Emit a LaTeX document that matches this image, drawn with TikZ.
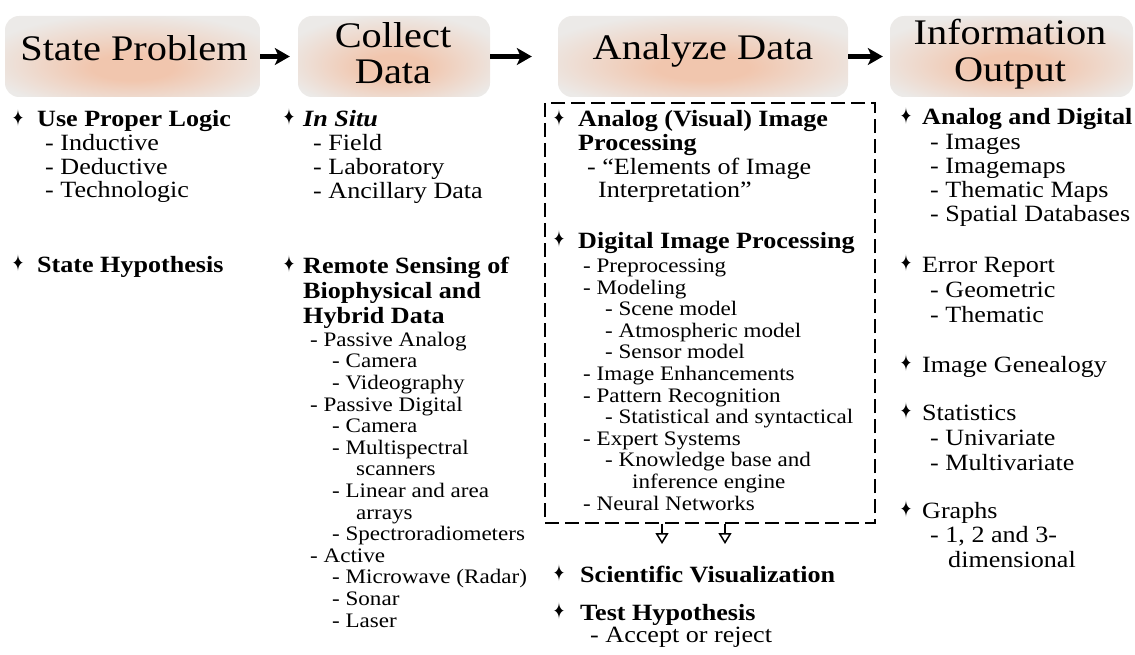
\documentclass[tikz,border=0pt]{standalone}
\usepackage{fontspec}
\usepackage{graphicx}
\setmainfont{Liberation Serif}[FakeStretch=1.12]
\newfontfamily\bulfam{DejaVu Sans}
\usetikzlibrary{arrows.meta}

\definecolor{hdrmid}{RGB}{241,198,174}
\definecolor{hdrrim}{RGB}{236,234,232}
\pgfdeclareradialshading{hdrglow}{\pgfpoint{0bp}{-8bp}}{%
  color(0bp)=(hdrmid); color(8bp)=(hdrmid); color(30bp)=(hdrrim); color(50bp)=(hdrrim)}

\newcommand{\bodyfont}{\fontsize{23.3}{24.3}\selectfont}
\newcommand{\smallfont}{\fontsize{20.6}{21.6}\selectfont}
\newcommand{\hdrfont}{\fontsize{36}{36.5}\selectfont}
% bullet in front of an entry, boxed to the given width
\newcommand{\itm}[1]{\makebox[#1][l]{\raisebox{0.5pt}{\bulfam\fontsize{23}{23}\selectfont\scalebox{0.62}[1]{✦}}}}

\begin{document}
\begin{tikzpicture}[x=1pt, y=-1pt,
  hdr/.style={rounded corners=14pt, minimum height=81pt, inner sep=0pt, shade, shading=hdrglow},
  htxt/.style={font=\hdrfont, align=center, inner sep=0pt},
  flowarrow/.style={line width=4.5pt, -{Stealth[length=15pt, width=17pt, inset=4pt]}},
  % entries sit on the baseline of their last line
  entry/.style={anchor=base west, align=left, inner sep=0pt, font=\bodyfont},
  sublist/.style={entry, font=\smallfont},
  dashbox/.style={draw, line width=1.4pt, dash pattern=on 14pt off 6pt, minimum width=330pt, minimum height=420pt, inner sep=0pt},
  outarrow/.style={line width=1.5pt, -{Triangle[open, length=11pt, width=13pt]}},
]
  \useasboundingbox (0,0) rectangle (1135,655);

  % the four stages
  \node[hdr, minimum width=255pt] (prob) at (132.5,56.5) {};
  \node[hdr, minimum width=192pt] (coll) at (394,56.5) {};
  \node[hdr, minimum width=290pt] (anlz) at (703,56.5) {};
  \node[hdr, minimum width=243pt] (info) at (1011.5,56.5) {};
  \node[htxt] (probt) at (134,47.7) {State Problem};
  \node[htxt] (collt) at (393,53) {Collect\\Data};
  \node[htxt] (anlzt) at (703,50.6) {Analyze Data};
  \node[htxt] (infot) at (1010,54) {Information\\Output};
  \draw[flowarrow, shorten >=8pt] (prob) -- (coll);
  \draw[flowarrow, shorten >=26pt] (coll) -- (anlz);
  \draw[flowarrow, shorten >=7pt] (anlz) -- (info);

  % state problem
  \node[entry] (logic) at (12,198) {\itm{25pt}\textbf{Use Proper Logic}\\[-0.6pt]
    \hspace*{33pt}- Inductive\\[-0.6pt]
    \hspace*{33pt}- Deductive\\[-0.6pt]
    \hspace*{33pt}- Technologic};
  \node[entry] (hyp) at (12,272) {\itm{25pt}\textbf{State Hypothesis}};

  % collect data
  \node[entry] (situ) at (283,199) {\itm{20pt}\textbf{\textit{In Situ}}\\
    \hspace*{30pt}- Field\\
    \hspace*{30pt}- Laboratory\\
    \hspace*{30pt}- Ancillary Data};
  \node[entry] (rs) at (283,323) {\itm{20pt}\textbf{Remote Sensing of}\\[0.7pt]
    \hspace*{20pt}\textbf{Biophysical and}\\[0.7pt]
    \hspace*{20pt}\textbf{Hybrid Data}};
  \node[sublist] (rslist) at (310,627) {- Passive Analog\\
    \hspace*{22pt}- Camera\\
    \hspace*{22pt}- Videography\\
    - Passive Digital\\
    \hspace*{22pt}- Camera\\
    \hspace*{22pt}- Multispectral\\
    \hspace*{46pt}scanners\\
    \hspace*{22pt}- Linear and area\\
    \hspace*{46pt}arrays\\
    \hspace*{22pt}- Spectroradiometers\\
    - Active\\
    \hspace*{22pt}- Microwave (Radar)\\
    \hspace*{22pt}- Sonar\\
    \hspace*{22pt}- Laser};

  % analyze data
  \node[dashbox] (proc) at (710,313) {};
  \node[entry] (avip) at (553,198) {\itm{25pt}\textbf{Analog (Visual) Image}\\[-0.6pt]
    \hspace*{25pt}\textbf{Processing}\\[-0.6pt]
    \hspace*{34pt}- “Elements of Image\\[-0.6pt]
    \hspace*{45pt}Interpretation”};
  \node[entry] (dip) at (553,248) {\itm{25pt}\textbf{Digital Image Processing}};
  \node[sublist] (diplist) at (583,510) {- Preprocessing\\
    - Modeling\\
    \hspace*{22pt}- Scene model\\
    \hspace*{22pt}- Atmospheric model\\
    \hspace*{22pt}- Sensor model\\
    - Image Enhancements\\
    - Pattern Recognition\\
    \hspace*{22pt}- Statistical and syntactical\\
    - Expert Systems\\
    \hspace*{22pt}- Knowledge base and\\
    \hspace*{49pt}inference engine\\
    - Neural Networks};
  \coordinate (sv1) at (662,544);
  \coordinate (sv2) at (725,544);
  \draw[outarrow] (proc.south -| sv1) -- (sv1);
  \draw[outarrow] (proc.south -| sv2) -- (sv2);
  \node[entry] (sv) at (553,582) {\itm{27pt}\textbf{Scientific Visualization}};
  \node[entry] (th) at (553,642) {\itm{27pt}\textbf{Test Hypothesis}\\[-2.3pt]
    \hspace*{37pt}- Accept or reject};

  % information output
  \node[entry] (adig) at (900,222) {\itm{22pt}\textbf{Analog and Digital}\\
    \hspace*{30pt}- Images\\
    \hspace*{30pt}- Imagemaps\\
    \hspace*{30pt}- Thematic Maps\\
    \hspace*{30pt}- Spatial Databases};
  \node[entry] (err) at (900,322) {\itm{22pt}Error Report\\[0.7pt]
    \hspace*{30pt}- Geometric\\[0.7pt]
    \hspace*{30pt}- Thematic};
  \node[entry] (gen) at (900,372) {\itm{22pt}Image Genealogy};
  \node[entry] (stat) at (900,470) {\itm{22pt}Statistics\\[0.7pt]
    \hspace*{30pt}- Univariate\\[0.7pt]
    \hspace*{30pt}- Multivariate};
  \node[entry] (graph) at (900,567) {\itm{22pt}Graphs\\
    \hspace*{30pt}- 1, 2 and 3-\\
    \hspace*{48pt}dimensional};
\end{tikzpicture}
\end{document}
